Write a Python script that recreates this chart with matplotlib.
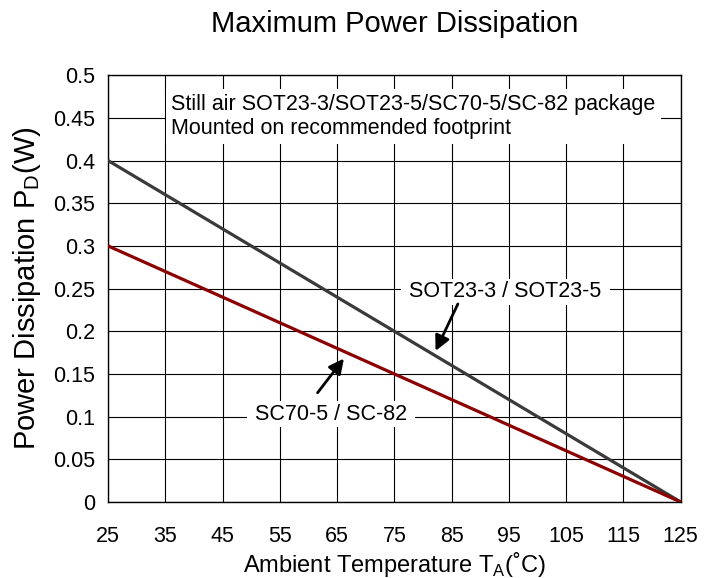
import numpy as np
import matplotlib
matplotlib.use("Agg")
import matplotlib.pyplot as plt

# data
temps = [25, 125]
sot23 = [0.4, 0.0]
sc70 = [0.3, 0.0]
xticks = list(range(25, 126, 10))
yticks = [0, 0.05, 0.1, 0.15, 0.2, 0.25, 0.3, 0.35, 0.4, 0.45, 0.5]
ytick_labels = ["0", "0.05", "0.1", "0.15", "0.2", "0.25", "0.3", "0.35", "0.4", "0.45", "0.5"]

plt.rcParams['font.family'] = ['Liberation Sans', 'DejaVu Sans']

fig = plt.figure(figsize=(7.15, 5.78), dpi=100)
ax = fig.add_axes([0.151, 0.1315, 0.801, 0.7385])

ax.plot(temps, sot23, color='#3a3a3a', lw=2.3, zorder=3, solid_capstyle='butt')
ax.plot(temps, sc70, color='#8b0000', lw=2.3, zorder=3, solid_capstyle='butt')

ax.set_xlim(25, 125)
ax.set_ylim(0, 0.5)
ax.set_xticks(xticks)
ax.set_yticks(yticks)
ax.set_yticklabels(ytick_labels)
ax.tick_params(axis='both', length=0, labelsize=15.5)
ax.tick_params(axis='x', pad=17)
ax.tick_params(axis='y', pad=9)
ax.grid(True, color='black', lw=0.8)
ax.set_axisbelow(True)
for s in ax.spines.values():
    s.set_linewidth(1.0)

ax.set_xlabel("Ambient Temperature T$_\\mathregular{A}$(\u02daC)", fontsize=17)
ax.set_ylabel("Power Dissipation P$_\\mathregular{D}$(W)", fontsize=21)
ax.xaxis.set_label_coords(0.5, -0.112)
ax.yaxis.set_label_coords(-0.113, 0.5)

fig.text(0.552, 1 - 24 / 578, "Maximum Power Dissipation", fontsize=21,
         ha='center', va='center')

# note box
ax.text(36, 0.4515, "Still air SOT23-3/SOT23-5/SC70-5/SC-82 package\nMounted on recommended footprint",
        fontsize=15.5, ha='left', va='center', linespacing=1.15, zorder=4,
        bbox=dict(facecolor='white', edgecolor='none', boxstyle='square,pad=0.25'))

# labels with arrows
ax.text(94.4, 0.246, " SOT23-3 / SOT23-5 ", fontsize=15.5, ha='center', va='center', zorder=4,
        bbox=dict(facecolor='white', edgecolor='none', boxstyle='square,pad=0.1'))
ax.text(63.9, 0.103, " SC70-5 / SC-82 ", fontsize=15.5, ha='center', va='center', zorder=4,
        bbox=dict(facecolor='white', edgecolor='none', boxstyle='square,pad=0.1'))

arrow = dict(arrowstyle='-|>,head_length=0.9,head_width=0.45', color='black', lw=2,
             shrinkA=0, shrinkB=0)
ax.annotate('', xy=(82.2, 0.177), xytext=(86.1, 0.232), arrowprops=arrow, zorder=5)
ax.annotate('', xy=(66.2, 0.168), xytext=(61.6, 0.128), arrowprops=arrow, zorder=5)

fig.savefig("out.png", dpi=100)
